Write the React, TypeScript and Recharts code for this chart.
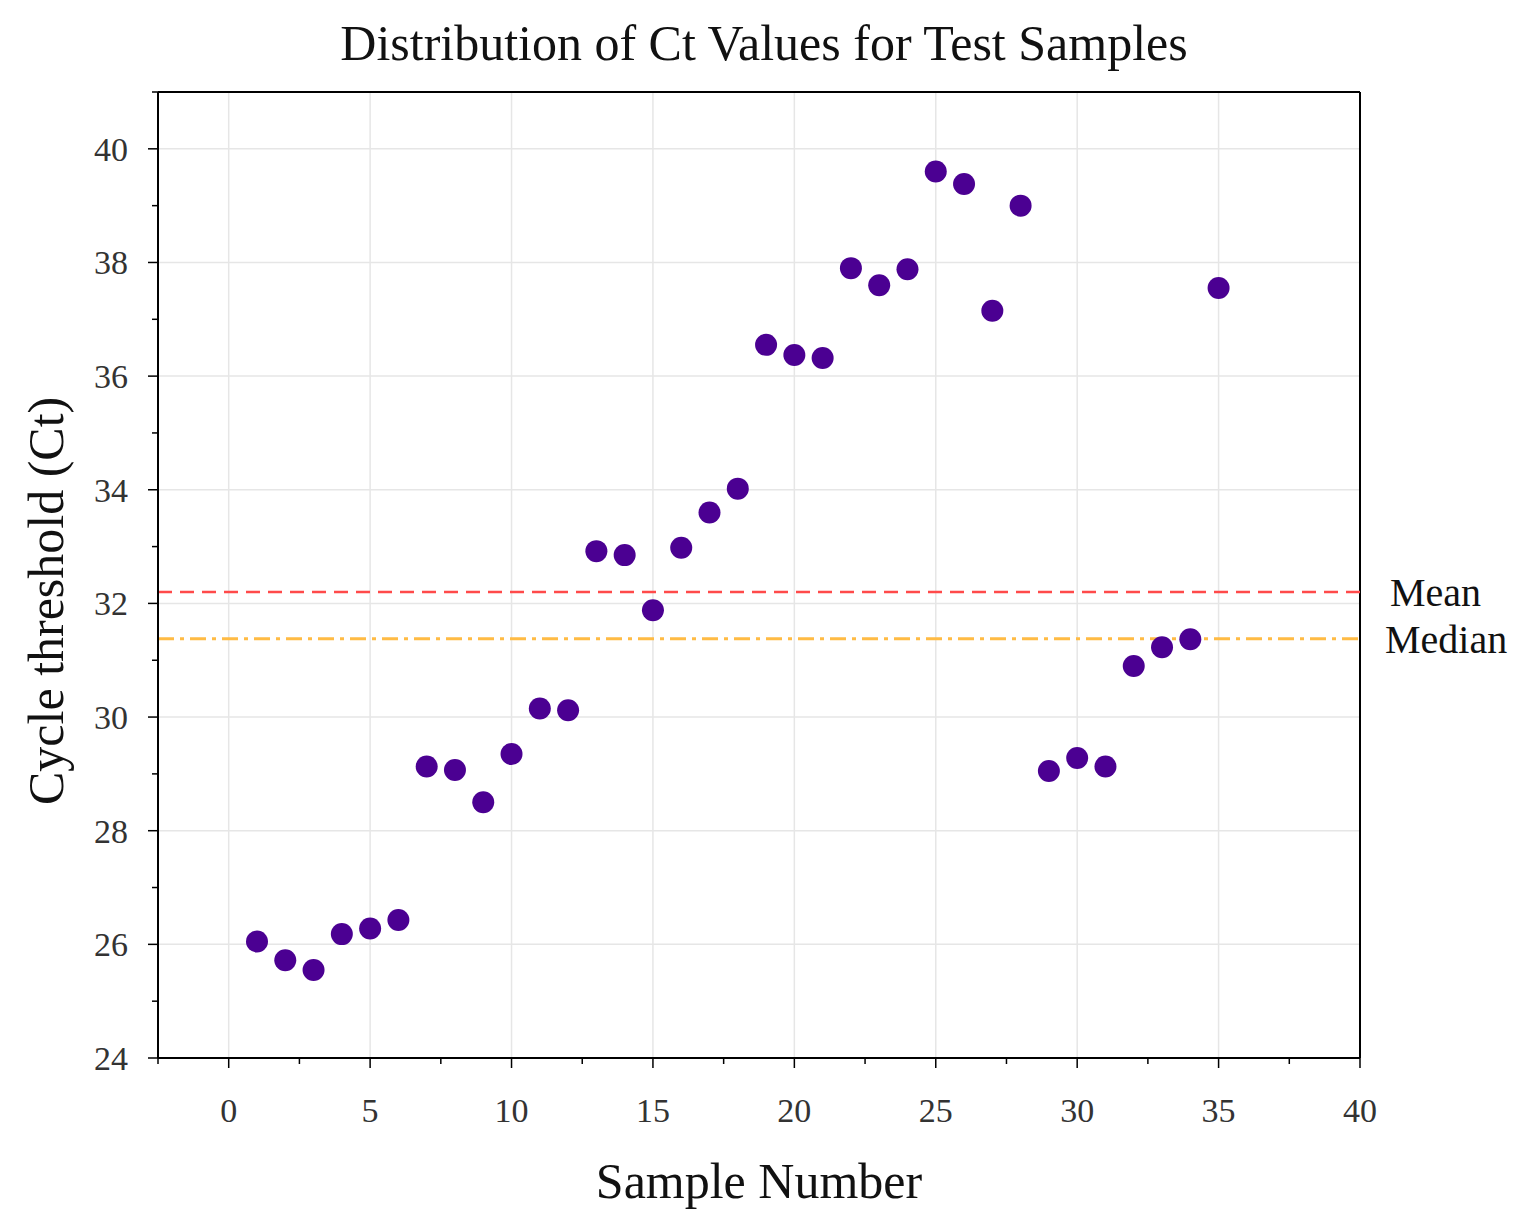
import React from 'react';
import {
  ScatterChart,
  Scatter,
  XAxis,
  YAxis,
  CartesianGrid,
  ReferenceLine,
} from 'recharts';

const samples = [
  1, 2, 3, 4, 5, 6, 7, 8, 9, 10, 11, 12, 13, 14, 15, 16, 17, 18, 19, 20, 21, 22, 23, 24, 25, 26, 27, 28, 29,
  30, 31, 32, 33, 34, 35,
];
const ctValues = [
  26.05, 25.72, 25.55, 26.18, 26.28, 26.43, 29.13, 29.07, 28.5, 29.35, 30.15, 30.12, 32.92, 32.85, 31.88,
  32.98, 33.6, 34.02, 36.55, 36.37, 36.32, 37.9, 37.6, 37.88, 39.6, 39.38, 37.15, 39.0, 29.05, 29.28, 29.13,
  30.9, 31.23, 31.37, 37.55,
];
const MEAN = 32.2;
const MEDIAN = 31.38;

const xMajor = [0, 5, 10, 15, 20, 25, 30, 35, 40];
const xAll = [-2.5, 0, 2.5, 5, 7.5, 10, 12.5, 15, 17.5, 20, 22.5, 25, 27.5, 30, 32.5, 35, 37.5, 40];
const yMajor = [24, 26, 28, 30, 32, 34, 36, 38, 40];
const yAll = [24, 25, 26, 27, 28, 29, 30, 31, 32, 33, 34, 35, 36, 37, 38, 39, 40, 41];

const points = samples.map((s, i) => ({ x: s, y: ctValues[i] }));

const FONT = '"Liberation Serif", "DejaVu Serif", serif';
const AXIS_BOTTOM = 1058;
const AXIS_LEFT = 158;

function XTick(props: any) {
  const { x, payload } = props;
  const major = xMajor.includes(payload.value);
  return (
    <g>
      <line x1={x} x2={x} y1={AXIS_BOTTOM} y2={AXIS_BOTTOM + (major ? 10 : 6)} stroke="#000" strokeWidth={1.5} />
      {major && (
        <text x={x} y={AXIS_BOTTOM + 64} textAnchor="middle" fontSize={34} fill="#333" fontFamily={FONT}>
          {payload.value}
        </text>
      )}
    </g>
  );
}

function YTick(props: any) {
  const { y, payload } = props;
  const major = yMajor.includes(payload.value);
  return (
    <g>
      <line x1={AXIS_LEFT - (major ? 10 : 6)} x2={AXIS_LEFT} y1={y} y2={y} stroke="#000" strokeWidth={1.5} />
      {major && (
        <text x={AXIS_LEFT - 30} y={y + 12} textAnchor="end" fontSize={34} fill="#333" fontFamily={FONT}>
          {payload.value}
        </text>
      )}
    </g>
  );
}

const Dot = (props: any) => <circle cx={props.cx} cy={props.cy} r={11} fill="#4b0092" />;

export default function App() {
  return (
    <div style={{ position: 'absolute', left: 0, top: 0, width: 1520, height: 1225, background: '#fff' }}>
      <div
        style={{
          position: 'absolute',
          top: 14,
          left: 0,
          width: 1520,
          paddingLeft: 4,
          textAlign: 'center',
          fontFamily: FONT,
          fontSize: 50,
          color: '#111',
        }}
      >
        Distribution of Ct Values for Test Samples
      </div>
      <ScatterChart width={1520} height={1225} margin={{ top: 92, right: 160, left: 98, bottom: 67 }}>
        <CartesianGrid stroke="#e6e6e6" strokeWidth={1.5} verticalValues={xMajor} horizontalValues={yMajor} />
        <XAxis
          type="number"
          dataKey="x"
          domain={[-2.5, 40]}
          ticks={xAll}
          interval={0}
          allowDataOverflow
          tick={<XTick />}
          tickLine={false}
          axisLine={{ stroke: '#000', strokeWidth: 2 }}
          height={100}
          label={{ value: 'Sample Number', position: 'insideBottom', offset: -40, fontSize: 50, fill: '#111', fontFamily: FONT }}
        />
        <YAxis
          type="number"
          dataKey="y"
          domain={[24, 41]}
          ticks={yAll}
          interval={0}
          allowDataOverflow
          tick={<YTick />}
          tickLine={false}
          axisLine={{ stroke: '#000', strokeWidth: 2 }}
          width={60}
          label={{
            value: 'Cycle threshold (Ct)',
            angle: -90,
            position: 'insideLeft',
            dx: -58,
            dy: 230,
            fontSize: 50,
            fill: '#111',
            fontFamily: FONT,
          }}
        />
        <ReferenceLine x={40} stroke="#000" strokeWidth={2} />
        <ReferenceLine y={41} stroke="#000" strokeWidth={2} />
        <ReferenceLine
          y={MEAN}
          stroke="#ff4a4a"
          strokeWidth={2.5}
          strokeDasharray="14 8"
          label={{ value: 'Mean', position: 'right', offset: 30, fontSize: 40, fill: '#111', fontFamily: FONT }}
        />
        <ReferenceLine
          y={MEDIAN}
          stroke="#ffbb44"
          strokeWidth={3}
          strokeDasharray="16 6 4 6"
          label={{ value: 'Median', position: 'right', offset: 25, fontSize: 40, fill: '#111', fontFamily: FONT }}
        />
        <Scatter data={points} shape={<Dot />} isAnimationActive={false} />
      </ScatterChart>
    </div>
  );
}
